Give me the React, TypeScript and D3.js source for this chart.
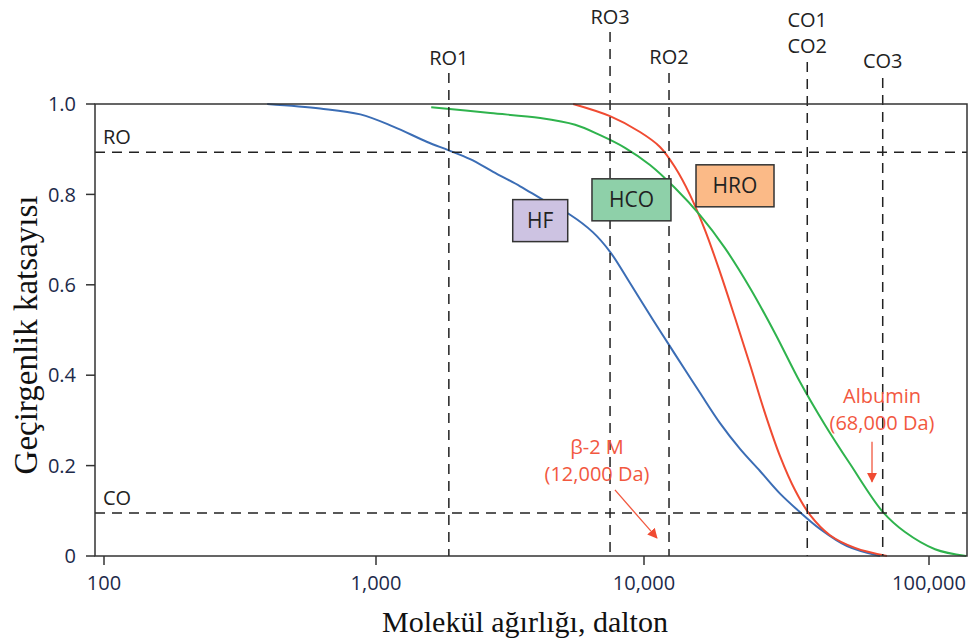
import React from 'react';
import * as d3 from 'd3';

// molecular weight (Da) / sieving coefficient
const hfMw = [398, 623, 876, 1160, 1553, 1860, 2246, 2736, 3450, 4203, 5300, 6455, 7470, 8866, 10760, 12240, 13930, 15720, 18480, 21720, 25530, 30010, 35270, 41450, 51570, 67310];
const hfCoef = [1.0, 0.99, 0.977, 0.95, 0.916, 0.898, 0.878, 0.85, 0.818, 0.788, 0.755, 0.716, 0.673, 0.604, 0.522, 0.467, 0.412, 0.361, 0.294, 0.237, 0.188, 0.138, 0.097, 0.06, 0.022, 0.0];

const hcoMw = [1607, 2668, 4099, 5536, 6860, 8496, 10500, 12850, 15720, 19240, 23550, 28810, 35270, 43160, 52810, 68970, 82380, 105000, 134900];
const hcoCoef = [0.993, 0.98, 0.969, 0.954, 0.931, 0.903, 0.865, 0.814, 0.754, 0.681, 0.593, 0.493, 0.385, 0.29, 0.204, 0.097, 0.053, 0.015, 0.0];

const hroMw = [5438, 7470, 9663, 11380, 12850, 14500, 16370, 18480, 20860, 23550, 26580, 30010, 33870, 38230, 44940, 55010, 71230];
const hroCoef = [1.0, 0.973, 0.938, 0.905, 0.86, 0.799, 0.721, 0.628, 0.527, 0.423, 0.316, 0.221, 0.146, 0.091, 0.046, 0.018, 0.0];

const xTicks = [100, 1000, 10000, 100000];
const yTicks = [0, 0.2, 0.4, 0.6, 0.8, 1.0];

// vertical cut-off markers
const cutoffNames = [['RO1'], ['RO3'], ['RO2'], ['CO1', 'CO2'], ['CO3']];
const cutoffMw = [1870, 7470, 12240, 37400, 68800];

// horizontal thresholds
const levelNames = ['RO', 'CO'];
const levelValues = [0.893, 0.095];

// membrane boxes (centre in data units)
const boxNames = ['HF', 'HCO', 'HRO'];
const boxMw = [4100, 8980, 20860];
const boxCoef = [0.742, 0.788, 0.819];

// marker molecules
const markerNames = [['β-2 M', '(12,000 Da)'], ['Albumin', '(68,000 Da)']];
const markerMw = [11100, 63100];
const markerCoef = [0.04, 0.164];

const W = 971;
const H = 640;
const left = 95, right = 967, top = 104, bottom = 556;

const sans = "'Open Sans', 'Noto Sans', sans-serif";
const serif = "'Liberation Serif', 'Times New Roman', serif";

export default function App() {
  const x = d3.scaleLog().domain([100, 1000, 10000, 100000]).range([104, 376, 644, 929]);
  const y = d3.scaleLinear().domain([0, 1]).range([bottom, top]);

  const line = d3.line<[number, number]>()
    .x(d => x(d[0]))
    .y(d => y(d[1]))
    .curve(d3.curveCatmullRom.alpha(0.5));

  const series = [
    { mw: hfMw, c: hfCoef, color: '#3b6db5' },
    { mw: hroMw, c: hroCoef, color: '#f04b32' },
    { mw: hcoMw, c: hcoCoef, color: '#2fb34d' },
  ];

  const labelTops = [73, 32, 73, 62, 78];
  const labelBase = [65, 24, 64, 27, 68];
  const boxW = [55, 79, 78];
  const boxFill = ['#cdc3e2', '#8ed0a9', '#fbba87'];
  const red = '#f2583f';
  const fs = 20;

  return (
    <svg width={W} height={H} style={{ position: 'absolute', left: 0, top: 0, background: '#fff' }}>
      <defs>
        <marker id="ah" viewBox="0 0 10 10" refX="9" refY="5" markerWidth="10" markerHeight="10" markerUnits="userSpaceOnUse" orient="auto">
          <path d="M0,0 L10,5 L0,10 z" fill="#f04b32" />
        </marker>
      </defs>

      {/* curves */}
      {series.map((s, i) => (
        <path key={i} d={line(s.mw.map((m, j) => [m, s.c[j]] as [number, number])) || ''}
          fill="none" stroke={s.color} strokeWidth={2} />
      ))}

      {/* horizontal threshold lines */}
      {levelValues.map((v, i) => (
        <g key={levelNames[i]}>
          <line x1={left} x2={right} y1={y(v)} y2={y(v)} stroke="#222" strokeWidth={1.5} strokeDasharray="10,7" />
          <text x={103} y={y(v) - 8} fontFamily={sans} fontSize={fs} fill="#222">{levelNames[i]}</text>
        </g>
      ))}

      {/* vertical cut-off lines */}
      {cutoffMw.map((m, i) => (
        <g key={i}>
          <line x1={x(m)} x2={x(m)} y1={labelTops[i]} y2={bottom} stroke="#222" strokeWidth={1.5} strokeDasharray="10,7" />
          {cutoffNames[i].map((n, k) => (
            <text key={n} x={x(m)} y={labelBase[i] + k * 26} textAnchor="middle" fontFamily={sans} fontSize={fs} fill="#222">{n}</text>
          ))}
        </g>
      ))}

      {/* frame */}
      <rect x={left} y={top} width={right - left} height={bottom - top} fill="none" stroke="#333" strokeWidth={1.5} />

      {/* y axis */}
      {yTicks.map(t => (
        <g key={t}>
          <line x1={left - 9} x2={left} y1={y(t)} y2={y(t)} stroke="#333" strokeWidth={1.5} />
          <text x={76} y={y(t)} dy="0.36em" textAnchor="end" fontFamily={sans} fontSize={fs} fill="#1d2a4a">
            {t === 0 ? '0' : d3.format('.1f')(t)}
          </text>
        </g>
      ))}

      {/* x axis */}
      {xTicks.map(t => (
        <g key={t}>
          <line x1={x(t)} x2={x(t)} y1={bottom} y2={bottom + 9} stroke="#333" strokeWidth={1.5} />
          <text x={x(t)} y={590} textAnchor="middle" fontFamily={sans} fontSize={fs} fill="#1d2a4a">
            {d3.format(',')(t)}
          </text>
        </g>
      ))}

      {/* membrane boxes */}
      {boxNames.map((n, i) => (
        <g key={n}>
          <rect x={x(boxMw[i]) - boxW[i] / 2} y={y(boxCoef[i]) - 21} width={boxW[i]} height={42}
            fill={boxFill[i]} stroke="#333" strokeWidth={1.5} />
          <text x={x(boxMw[i])} y={y(boxCoef[i])} dy="0.36em" textAnchor="middle" fontFamily={sans} fontSize={21} fill="#222">{n}</text>
        </g>
      ))}

      {/* marker molecules */}
      <text x={597} y={454} textAnchor="middle" fontFamily={sans} fontSize={fs} fill={red}>{markerNames[0][0]}</text>
      <text x={597} y={481} textAnchor="middle" fontFamily={sans} fontSize={fs} fill={red}>{markerNames[0][1]}</text>
      <line x1={x(markerMw[0]) - 42} y1={y(markerCoef[0]) - 48} x2={x(markerMw[0])} y2={y(markerCoef[0])}
        stroke={red} strokeWidth={1.3} markerEnd="url(#ah)" />

      <text x={882} y={403} textAnchor="middle" fontFamily={sans} fontSize={fs} fill={red}>{markerNames[1][0]}</text>
      <text x={882} y={430} textAnchor="middle" fontFamily={sans} fontSize={fs} fill={red}>{markerNames[1][1]}</text>
      <line x1={x(markerMw[1])} y1={y(markerCoef[1]) - 40} x2={x(markerMw[1])} y2={y(markerCoef[1])}
        stroke={red} strokeWidth={1.3} markerEnd="url(#ah)" />

      {/* axis titles */}
      <text transform="translate(37,335) rotate(-90)" textAnchor="middle" fontFamily={serif} fontSize={33} fill="#111">
        Geçirgenlik katsayısı
      </text>
      <text x={525} y={632} textAnchor="middle" fontFamily={serif} fontSize={30} fill="#111">
        Molekül ağırlığı, dalton
      </text>
    </svg>
  );
}
